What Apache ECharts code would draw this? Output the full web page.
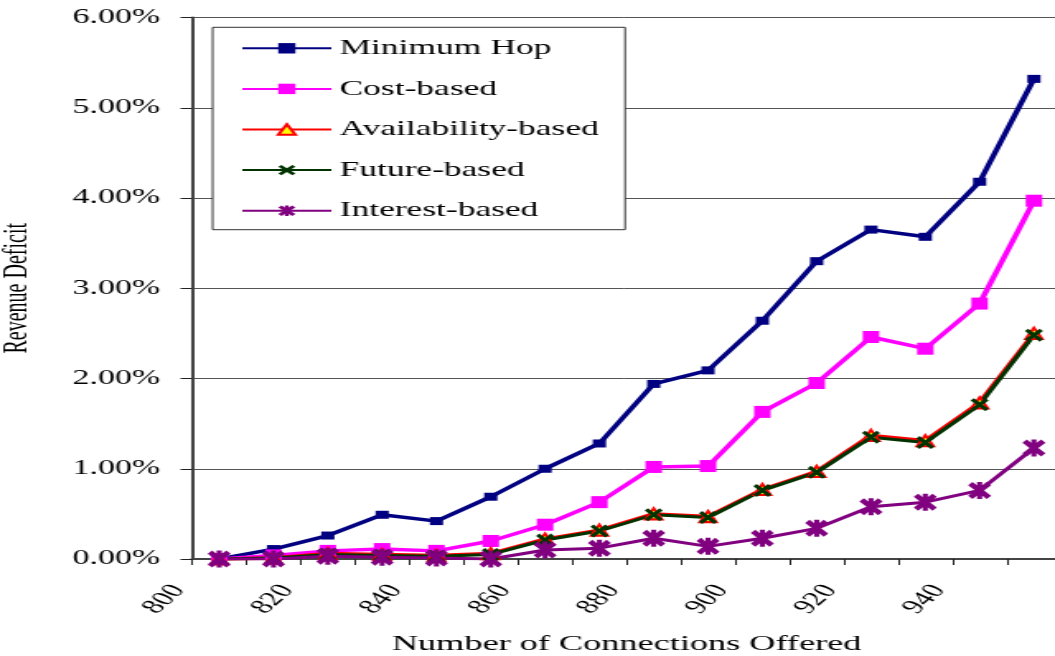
<!DOCTYPE html>
<html>
<head>
<meta charset="utf-8">
<script src="https://cdn.jsdelivr.net/npm/echarts@6/dist/echarts.min.js"></script>
<style>
  html, body { margin: 0; padding: 0; background: #fff; overflow: hidden; }
  #stage { width: 1055px; height: 656px; overflow: hidden; position: relative; }
  /* the chart is laid out narrow and widened horizontally */
  #chart { position: absolute; left: 0; top: 0; width: 640px; height: 656px;
           transform-origin: 0 0; transform: scaleX(1.6484); }
</style>
</head>
<body>
<div id="stage"><div id="chart"></div></div>
<script>
// Connections offered (x) and revenue deficit in percent (y)
var connections = [805, 815, 825, 835, 845, 855, 865, 875, 885, 895, 905, 915, 925, 935, 945, 955];
var minimumHop   = [0, 0.11, 0.26, 0.49, 0.42, 0.69, 1.00, 1.28, 1.94, 2.09, 2.64, 3.30, 3.65, 3.57, 4.18, 5.32];
var costBased    = [0, 0.04, 0.09, 0.11, 0.09, 0.20, 0.38, 0.63, 1.02, 1.03, 1.63, 1.95, 2.46, 2.33, 2.83, 3.97];
var availability = [0, 0.01, 0.06, 0.05, 0.04, 0.06, 0.22, 0.32, 0.50, 0.47, 0.77, 0.97, 1.37, 1.31, 1.73, 2.50];
var futureBased  = [0, 0.01, 0.05, 0.04, 0.03, 0.05, 0.21, 0.31, 0.49, 0.46, 0.76, 0.96, 1.35, 1.29, 1.71, 2.48];
var interest     = [0, 0.00, 0.03, 0.02, 0.01, 0.00, 0.10, 0.12, 0.23, 0.14, 0.23, 0.34, 0.58, 0.63, 0.76, 1.23];

var seriesNames = ['Minimum Hop', 'Cost-based', 'Availability-based', 'Future-based', 'Interest-based'];
var xTickLabels = [800, 820, 840, 860, 880, 900, 920, 940];

function pairs(ys) {
  return connections.map(function (x, i) { return [x, ys[i]]; });
}

var FONT = "'Liberation Serif', 'Times New Roman', serif";
var X_MARK = 'path://M0,1.8L1.8,0L5,3.2L8.2,0L10,1.8L6.8,5L10,8.2L8.2,10L5,6.8L1.8,10L0,8.2L3.2,5Z';
var STAR_MARK = 'path://M0,1.9L1.9,0L5,3.1L8.1,0L10,1.9L6.9,5L10,8.1L8.1,10L5,6.9L1.9,10L0,8.1L3.1,5Z' +
                'M3.9,0L6.1,0L6.1,10L3.9,10Z';

function lineSeries(name, data, color, width, symbol, size, extra) {
  var s = {
    name: name,
    type: 'line',
    data: pairs(data),
    symbol: symbol,
    symbolSize: size,
    symbolKeepAspect: false,
    showAllSymbol: true,
    animation: false,
    lineStyle: { color: color, width: width },
    itemStyle: { color: color, borderWidth: 0 }
  };
  if (extra) { for (var k in extra) s[k] = extra[k]; }
  return s;
}

var chart = echarts.init(document.getElementById('chart'));
chart.setOption({
  animation: false,
  backgroundColor: '#fff',
  grid: {
    left: 116.5, top: 17.5, width: 527.2, height: 541.5,
    containLabel: false,
    outerBoundsMode: 'none'
  },
  legend: {
    orient: 'vertical',
    left: 129,
    top: 27.3,
    data: seriesNames,
    itemWidth: 54,
    itemHeight: 13,
    itemGap: 18.6,
    padding: [10, 16, 8, 17],
    backgroundColor: '#fff',
    borderColor: '#333',
    borderWidth: 1,
    borderRadius: 0,
    textStyle: { fontFamily: FONT, fontSize: 21.5, color: '#000', lineHeight: 22 }
  },
  xAxis: {
    type: 'value',
    min: 800,
    max: 960,
    interval: 10,
    name: 'Number of Connections Offered',
    nameLocation: 'middle',
    nameGap: 74,
    nameTextStyle: { fontFamily: FONT, fontSize: 22, color: '#000' },
    axisLine: { show: true, onZero: false, lineStyle: { color: '#444', width: 2 } },
    axisTick: { show: true, inside: false, length: 6, lineStyle: { color: '#222', width: 1 } },
    splitLine: { show: false },
    axisLabel: {
      rotate: 54,
      margin: 34,
      align: 'right',
      verticalAlign: 'bottom',
      fontFamily: FONT,
      fontSize: 20,
      color: '#000',
      showMaxLabel: false,
      formatter: function (v) {
        return xTickLabels.indexOf(v) >= 0 ? String(v) : '';
      }
    }
  },
  yAxis: {
    type: 'value',
    min: 0,
    max: 6,
    interval: 1,
    name: 'Revenue Deficit',
    nameLocation: 'middle',
    nameRotate: 90,
    nameGap: 96,
    nameTextStyle: { fontFamily: FONT, fontSize: 20, color: '#000' },
    axisLine: { show: true, lineStyle: { color: '#444', width: 2 } },
    axisTick: { show: true, inside: false, length: 7, lineStyle: { color: '#222', width: 1 } },
    splitLine: { show: true, lineStyle: { color: '#555', width: 1 } },
    axisLabel: {
      margin: 19.5,
      fontFamily: FONT,
      fontSize: 20.5,
      color: '#000',
      formatter: function (v) { return v.toFixed(2) + '%'; }
    }
  },
  series: [
    lineSeries('Minimum Hop', minimumHop, '#000080', 3.5, 'rect', [8, 8]),
    lineSeries('Cost-based', costBased, '#ff00ff', 3.5, 'rect', [10, 12]),
    lineSeries('Availability-based', availability, '#ff0000', 3.5, 'triangle', [10, 11], {
      itemStyle: { color: '#ffff00', borderColor: '#ff0000', borderWidth: 2 }
    }),
    lineSeries('Future-based', futureBased, '#003300', 3, X_MARK, [11, 13]),
    lineSeries('Interest-based', interest, '#800080', 3, STAR_MARK, [14, 17])
  ]
});
</script>
</body>
</html>
